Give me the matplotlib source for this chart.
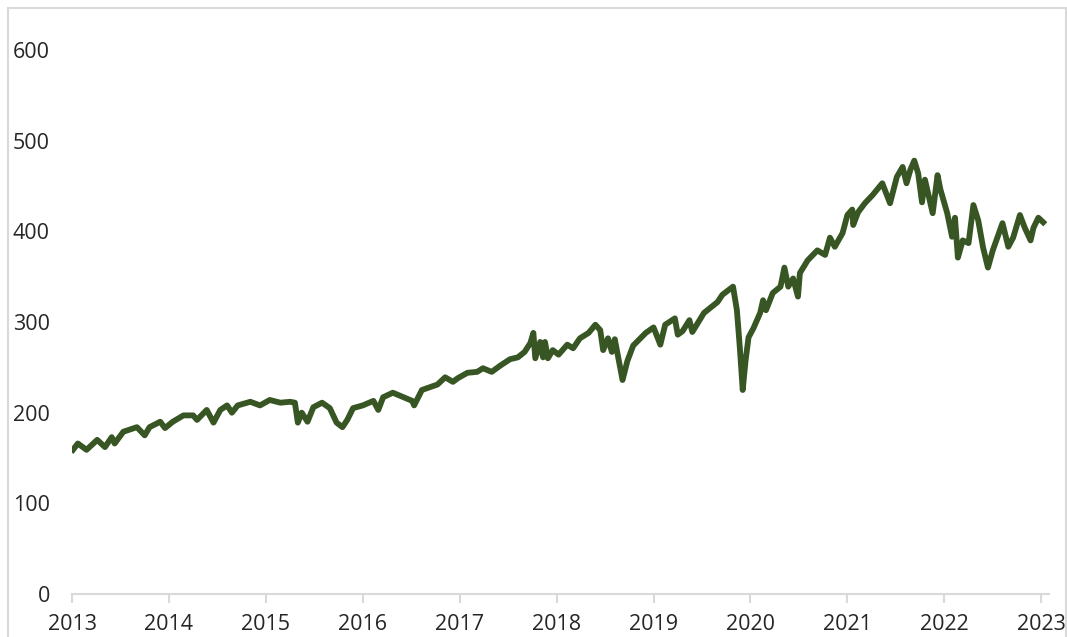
import matplotlib.pyplot as plt
from matplotlib.patches import Rectangle

# fractional year positions and index level
years = [2013.01, 2013.06, 2013.15, 2013.26, 2013.34, 2013.41, 2013.44, 2013.53,
         2013.67, 2013.75, 2013.80, 2013.91, 2013.96, 2014.04, 2014.15, 2014.25,
         2014.29, 2014.39, 2014.46, 2014.53, 2014.60, 2014.65, 2014.71, 2014.84,
         2014.94, 2015.04, 2015.15, 2015.25, 2015.30, 2015.33, 2015.37, 2015.43,
         2015.49, 2015.58, 2015.66, 2015.73, 2015.79, 2015.84, 2015.90, 2016.00,
         2016.11, 2016.16, 2016.21, 2016.31, 2016.42, 2016.51, 2016.53, 2016.61,
         2016.69, 2016.77, 2016.85, 2016.93, 2016.98, 2017.08, 2017.18, 2017.24,
         2017.33, 2017.42, 2017.52, 2017.60, 2017.67, 2017.73, 2017.76, 2017.78,
         2017.83, 2017.86, 2017.88, 2017.91, 2017.96, 2018.02, 2018.11, 2018.17,
         2018.24, 2018.33, 2018.40, 2018.45, 2018.48, 2018.53, 2018.57, 2018.60,
         2018.63, 2018.68, 2018.73, 2018.79, 2018.92, 2019.00, 2019.07, 2019.12,
         2019.22, 2019.25, 2019.30, 2019.37, 2019.40, 2019.52, 2019.66, 2019.71,
         2019.82, 2019.86, 2019.89, 2019.92, 2019.95, 2019.98, 2020.03, 2020.10,
         2020.13, 2020.16, 2020.23, 2020.31, 2020.35, 2020.39, 2020.44, 2020.49,
         2020.51, 2020.59, 2020.69, 2020.77, 2020.82, 2020.87, 2020.95, 2021.00,
         2021.05, 2021.06, 2021.11, 2021.18, 2021.26, 2021.36, 2021.44, 2021.51,
         2021.57, 2021.61, 2021.65, 2021.69, 2021.73, 2021.77, 2021.80, 2021.88,
         2021.93, 2021.96, 2022.03, 2022.08, 2022.11, 2022.14, 2022.19, 2022.25,
         2022.30, 2022.35, 2022.40, 2022.45, 2022.50, 2022.60, 2022.66, 2022.71,
         2022.78, 2022.83, 2022.89, 2022.92, 2022.97, 2023.02]
values = [159, 166, 159, 170, 162, 173, 166, 179,
          184, 175, 184, 190, 183, 190, 197, 197,
          192, 203, 189, 203, 208, 200, 208, 212,
          208, 214, 211, 212, 211, 189, 200, 190,
          206, 211, 205, 189, 184, 192, 205, 208,
          213, 203, 217, 222, 217, 213, 208, 225,
          228, 231, 239, 234, 238, 244, 245, 249,
          245, 252, 259, 261, 267, 277, 288, 260,
          278, 261, 278, 260, 269, 264, 275, 271,
          282, 288, 297, 291, 269, 282, 267, 281,
          264, 236, 257, 274, 288, 294, 275, 297,
          304, 286, 290, 302, 289, 310, 322, 330,
          339, 313, 272, 225, 258, 283, 293, 310,
          324, 313, 332, 339, 360, 339, 348, 328,
          354, 368, 379, 374, 393, 383, 398, 418,
          424, 407, 421, 431, 440, 453, 431, 460,
          471, 453, 468, 478, 464, 432, 457, 420,
          462, 446, 420, 394, 415, 371, 390, 387,
          429, 412, 382, 360, 379, 409, 383, 393,
          418, 404, 390, 404, 415, 410]

tick_years = list(range(2013, 2024))
y_ticks = [0, 100, 200, 300, 400, 500, 600]

plt.rcParams['font.family'] = ['Open Sans', 'DejaVu Sans']

fig = plt.figure(figsize=(10.67, 6.37), dpi=100)
ax = fig.add_axes([72 / 1067, 1 - 594 / 637, (1049 - 72) / 1067, (594 - 50) / 637])

ax.plot(years, values, color='#375623', linewidth=4.2, solid_joinstyle='round')

ax.set_xlim(2013, 2023.08)
ax.set_ylim(0, 600)
ax.set_xticks(tick_years)
ax.set_xticklabels([str(y) for y in tick_years])
ax.set_yticks(y_ticks)

for s in ['top', 'right', 'left']:
    ax.spines[s].set_visible(False)
ax.spines['bottom'].set_color('#d9d9d9')
ax.spines['bottom'].set_linewidth(1.5)

ax.tick_params(axis='x', length=6.5, width=1.5, color='#d9d9d9', labelsize=15.5,
               labelcolor='#262626', pad=8)
ax.tick_params(axis='y', length=0, labelsize=15.5, labelcolor='#262626', pad=16)

# light border around the chart area
fig.patches.append(Rectangle((8 / 1067, -0.05), (1066 - 8) / 1067, 1.05 - 8 / 637,
                             transform=fig.transFigure, fill=False,
                             edgecolor='#d9d9d9', linewidth=1.5))

fig.savefig('out.png', dpi=100)
